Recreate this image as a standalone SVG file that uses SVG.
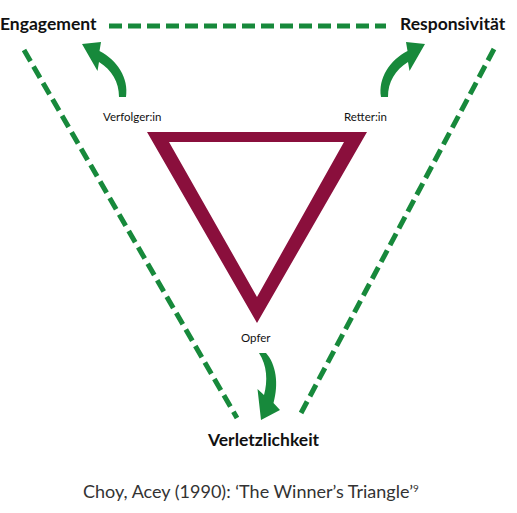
<svg xmlns="http://www.w3.org/2000/svg" width="517" height="513" viewBox="0 0 517 513">
<style>
.dash{fill:none;stroke:#17893b;stroke-width:5;stroke-dasharray:13 6}
.big{font-family:Lato,"Liberation Sans",sans-serif;font-weight:700;font-size:17.5px;fill:#111}
.small{font-family:Lato,"Liberation Sans",sans-serif;font-size:11.5px;fill:#111}
.cap{font-family:Lato,"Liberation Sans",sans-serif;font-weight:400;font-size:18px;fill:#333}
.arrow{fill:#17893b}
</style>
<defs>
<path id="arr" d="M82 44 L101 42 L99.5 51 C117 60 129 78 126 97 L119 97 C119 82 112 70 99 62 L97.5 71 Z"/>
</defs>
<g id="connectors">
<line class="dash" x1="109" y1="26" x2="386" y2="26"/>
<line class="dash" x1="24" y1="50" x2="237" y2="418"/>
<line class="dash" x1="494" y1="49" x2="300" y2="415"/>
</g>
<g id="triangle">
<path fill="#8a0f3c" fill-rule="evenodd" d="M147 132 L367 132 L257 323 Z M169 142 L257 297 L344 142 Z"/>
</g>
<g id="arrows">
<use href="#arr" class="arrow"/>
<use href="#arr" class="arrow" transform="translate(507,0) scale(-1,1)"/>
<path class="arrow" d="M259 353 L266 353 C276 364 279 384 273.5 403 L280 410 L261 420 L257.5 389 L264 395 C268 381 267 365 259 353 Z"/>
</g>
<g id="engagement"><text class="big" x="0" y="30">Engagement</text></g>
<g id="responsivitaet"><text class="big" x="400" y="30">Responsivität</text></g>
<g id="verletzlichkeit"><text class="big" x="208" y="446">Verletzlichkeit</text></g>
<g id="verfolger"><text class="small" x="103" y="121">Verfolger:in</text></g>
<g id="retter"><text class="small" x="344" y="121">Retter:in</text></g>
<g id="opfer"><text class="small" x="241" y="342">Opfer</text></g>
<g id="caption"><text class="cap" x="83" y="498">Choy, Acey (1990): ‘The Winner’s Triangle’<tspan font-size="10" dy="-6">9</tspan></text></g>
</svg>
